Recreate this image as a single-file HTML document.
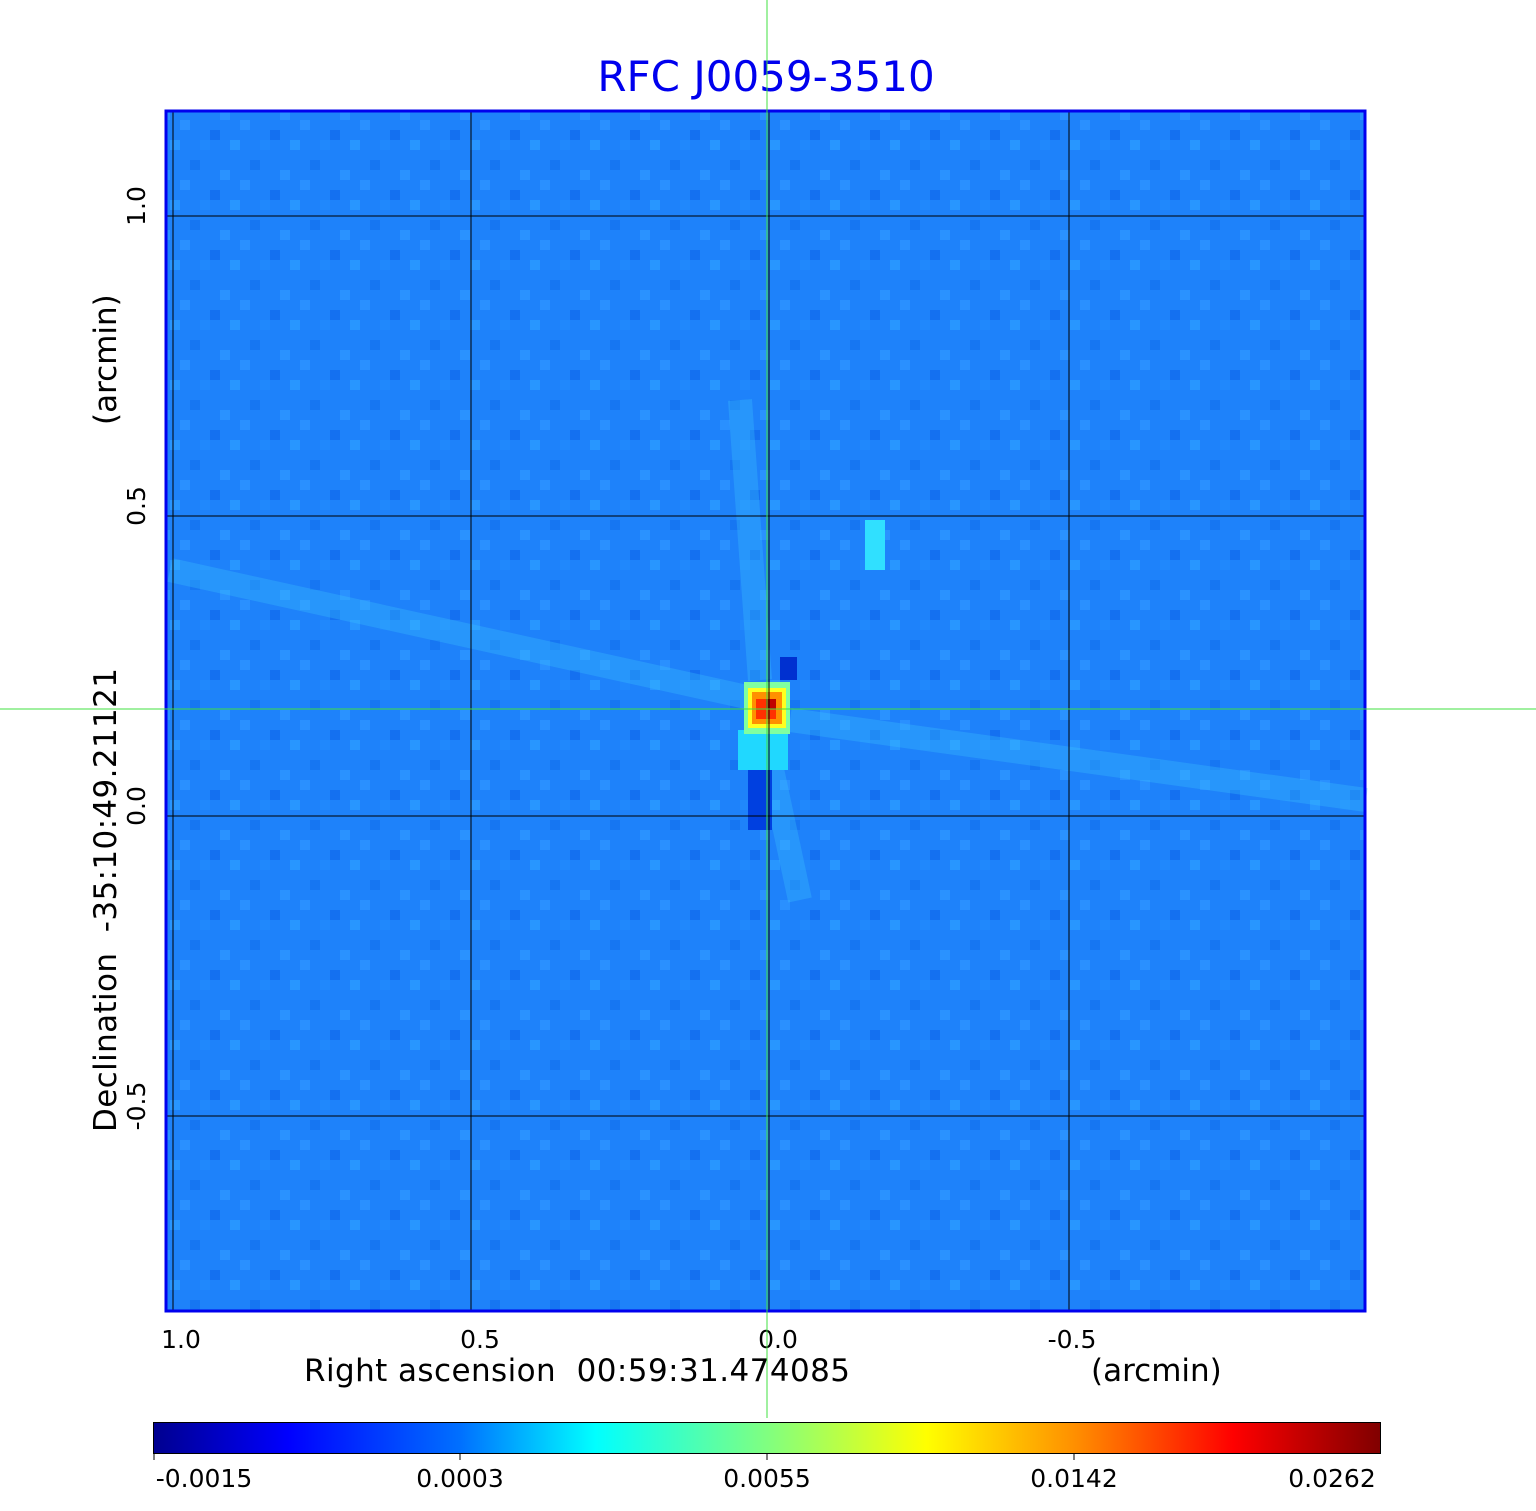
<!DOCTYPE html>
<html><head><style>body{margin:0;background:#fff}svg{display:block}text{white-space:pre}</style></head><body>
<svg width="1536" height="1511" xmlns="http://www.w3.org/2000/svg" font-family="'DejaVu Sans','Liberation Sans',sans-serif" xml:space="preserve">
<defs>
<linearGradient id="jet" x1="0" x2="1" y1="0" y2="0">
<stop offset="0" stop-color="#00008f"/><stop offset="0.11" stop-color="#0000ff"/><stop offset="0.25" stop-color="#0070ff"/><stop offset="0.36" stop-color="#00ffff"/><stop offset="0.5" stop-color="#80ff80"/><stop offset="0.63" stop-color="#ffff00"/><stop offset="0.75" stop-color="#ff9000"/><stop offset="0.88" stop-color="#ff0000"/><stop offset="1" stop-color="#800000"/>
</linearGradient>
<pattern id="noise" width="60" height="60" patternUnits="userSpaceOnUse">
<rect width="60" height="60" fill="#1e82fa"/>
<rect x="0" y="0" width="10" height="10" fill="#2a90ff"/><rect x="30" y="10" width="10" height="10" fill="#1470f0"/>
<rect x="50" y="20" width="10" height="10" fill="#2896ff"/><rect x="10" y="40" width="10" height="10" fill="#1676f2"/>
<rect x="40" y="50" width="10" height="10" fill="#2a92ff"/><rect x="20" y="20" width="10" height="10" fill="#2088fc"/>
</pattern>
</defs>
<text x="766" y="91" font-size="42" fill="#0000ee" text-anchor="middle">RFC J0059-3510</text>
<rect x="165" y="110" width="1201" height="1202" fill="url(#noise)"/>
<g stroke="#40c8ff" stroke-opacity="0.3" stroke-width="24" fill="none">
<line x1="170" y1="570" x2="760" y2="700"/><line x1="790" y1="720" x2="1366" y2="800"/>
<line x1="740" y1="400" x2="760" y2="680"/><line x1="770" y1="760" x2="800" y2="900"/>
</g>
<rect x="865" y="520" width="20" height="50" fill="#30e0ff"/>
<rect x="780" y="657" width="17" height="23" fill="#0030d0"/>
<rect x="748" y="762" width="24" height="68" fill="#0040e0"/>
<rect x="738" y="730" width="50" height="40" fill="#20d8ff"/>
<rect x="744" y="682" width="46" height="52" fill="#80ffa0"/>
<rect x="748" y="688" width="38" height="40" fill="#ffff20"/>
<rect x="752" y="692" width="30" height="32" fill="#ff9000"/>
<rect x="756" y="699" width="20" height="20" fill="#ff3000"/>
<rect x="766" y="699" width="10" height="10" fill="#c00000"/>
<g stroke="#000" stroke-width="1">
<line x1="173" y1="110" x2="173" y2="1312"/><line x1="471" y1="110" x2="471" y2="1312"/><line x1="769" y1="110" x2="769" y2="1312"/><line x1="1069" y1="110" x2="1069" y2="1312"/>
<line x1="165" y1="216" x2="1366" y2="216"/><line x1="165" y1="516" x2="1366" y2="516"/><line x1="165" y1="816" x2="1366" y2="816"/><line x1="165" y1="1116" x2="1366" y2="1116"/>
</g>
<rect x="166" y="111" width="1199" height="1200" fill="none" stroke="#0000ee" stroke-width="3"/>
<g font-size="25" fill="#000">
<text x="181" y="1348" text-anchor="middle">1.0</text><text x="480" y="1348" text-anchor="middle">0.5</text><text x="778" y="1348" text-anchor="middle">0.0</text><text x="1072" y="1348" text-anchor="middle">-0.5</text>
<text transform="translate(145,206) rotate(-90)" text-anchor="middle">1.0</text>
<text transform="translate(145,506) rotate(-90)" text-anchor="middle">0.5</text>
<text transform="translate(145,806) rotate(-90)" text-anchor="middle">0.0</text>
<text transform="translate(145,1106) rotate(-90)" text-anchor="middle">-0.5</text>
</g>
<g font-size="31" fill="#000">
<text x="304" y="1381" textLength="546">Right ascension  00:59:31.474085</text>
<text x="1091" y="1381">(arcmin)</text>
<text transform="translate(116,1132) rotate(-90)" textLength="464">Declination  -35:10:49.21121</text>
<text transform="translate(116,425) rotate(-90)">(arcmin)</text>
</g>
<rect x="153.5" y="1422.5" width="1227" height="31" fill="url(#jet)" stroke="#000"/>
<g stroke="#000"><line x1="460" y1="1453" x2="460" y2="1460"/><line x1="767" y1="1453" x2="767" y2="1460"/><line x1="1074" y1="1453" x2="1074" y2="1460"/><line x1="154" y1="1453" x2="154" y2="1460"/></g>
<g font-size="25" fill="#000" text-anchor="middle">
<text x="204" y="1487">-0.0015</text><text x="460" y="1487">0.0003</text><text x="767" y="1487">0.0055</text><text x="1074" y="1487">0.0142</text><text x="1332" y="1487">0.0262</text>
</g>
<line x1="767" y1="0" x2="767" y2="1418" stroke="#40e040" stroke-width="1"/>
<line x1="0" y1="709" x2="1536" y2="709" stroke="#40e040" stroke-width="1"/>
</svg>
</body></html>
